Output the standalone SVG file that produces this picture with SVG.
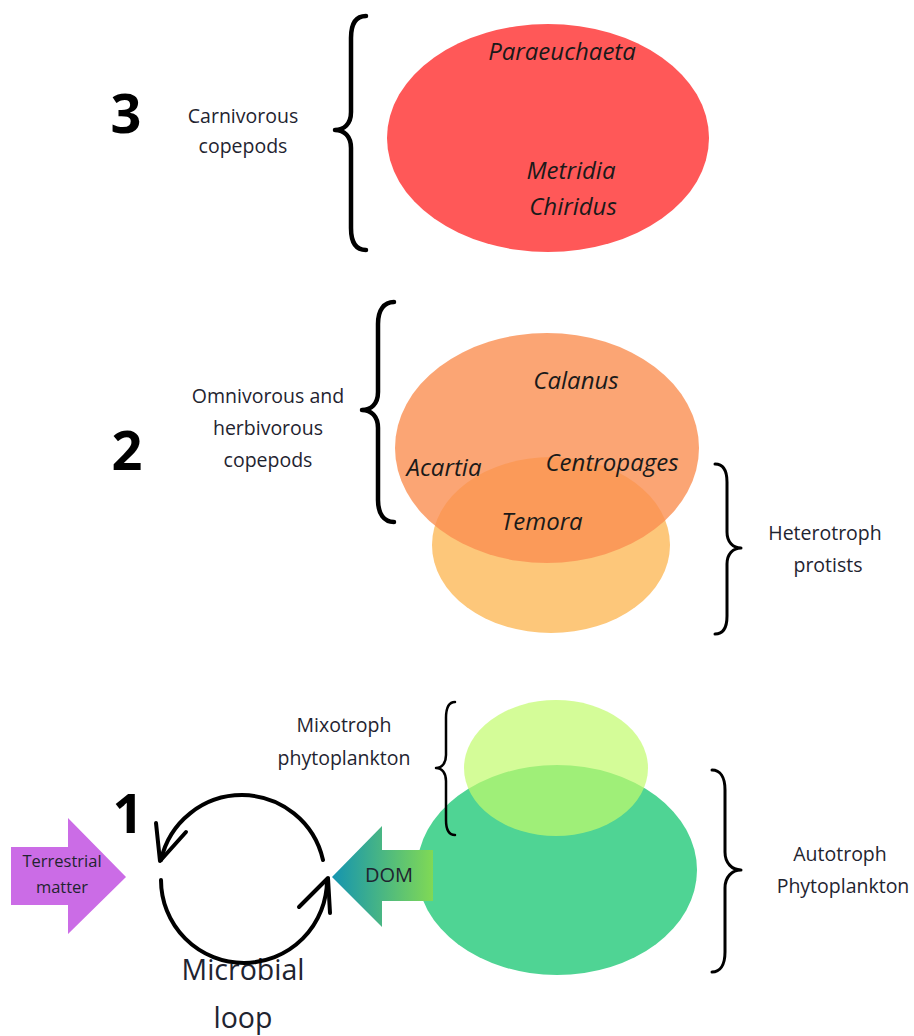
<svg xmlns="http://www.w3.org/2000/svg" width="914" height="1036" viewBox="0 0 914 1036">
<defs>
<style>
.lbl{font-family:"Open Sans","DejaVu Sans",sans-serif;font-size:19.5px;fill:#1f2430;text-anchor:middle}
.sp{font-family:"Open Sans","DejaVu Sans",sans-serif;font-size:24px;font-style:italic;fill:#1a1a1a;text-anchor:middle}
.num{font-family:"Open Sans","DejaVu Sans",sans-serif;font-size:54px;font-weight:bold;fill:#000;text-anchor:middle}
.brace{fill:none;stroke:#000;stroke-linecap:round;stroke-linejoin:round}
.loop{fill:none;stroke:#000;stroke-width:4;stroke-linecap:round;stroke-linejoin:round}
</style>
<linearGradient id="domGrad" x1="332" y1="0" x2="433" y2="0" gradientUnits="userSpaceOnUse">
<stop offset="0" stop-color="#1494B0"/>
<stop offset="1" stop-color="#80D955"/>
</linearGradient>
</defs>
<rect width="914" height="1036" fill="#fff"/>

<g id="level3">
<text class="num" x="126" y="133">3</text>
<text class="lbl" x="243" y="123">Carnivorous</text>
<text class="lbl" x="243" y="153">copepods</text>
<path class="brace" stroke-width="4.5" d="M366,16 C356,16 351,24 351,38 L351,112 C351,124 344,130 335,130 C344,130 351,136 351,148 L351,228 C351,242 356,250 366,250"/>
</g>
<g id="carnivores">
<ellipse cx="548" cy="138" rx="161" ry="114" fill="#FF5858"/>
<text class="sp" x="562" y="60">Paraeuchaeta</text>
<text class="sp" x="571" y="179">Metridia</text>
<text class="sp" x="573" y="215">Chiridus</text>
</g>

<g id="level2">
<text class="num" x="127" y="470">2</text>
<text class="lbl" x="268" y="403">Omnivorous and</text>
<text class="lbl" x="268" y="435">herbivorous</text>
<text class="lbl" x="268" y="467">copepods</text>
<path class="brace" stroke-width="4.5" d="M394,302 C384,302 378,310 378,324 L378,392 C378,404 371,410 362,410 C371,410 378,416 378,428 L378,500 C378,514 384,522 394,522"/>
</g>
<g id="heterotroph-protists">
<ellipse cx="551" cy="545" rx="119" ry="88" fill="#FDC77A"/>
<path class="brace" stroke-width="3" d="M715,464 C723,464 727,470 727,482 L727,532 C727,542 733,548 741,548 C733,548 727,554 727,564 L727,616 C727,628 723,634 715,634"/>
<text class="lbl" x="825" y="540">Heterotroph</text>
<text class="lbl" x="828" y="572">protists</text>
</g>
<g id="copepods">
<ellipse cx="547" cy="448" rx="152" ry="115" fill="#FA8E51" fill-opacity="0.8"/>
<text class="sp" x="576" y="389">Calanus</text>
<text class="sp" x="444" y="476">Acartia</text>
<text class="sp" x="612" y="471">Centropages</text>
<text class="sp" x="542" y="530">Temora</text>
</g>

<g id="autotroph">
<ellipse cx="557" cy="870" rx="140" ry="105" fill="#4FD494"/>
<path class="brace" stroke-width="3" d="M712,770 C720,770 725,777 725,790 L725,852 C725,863 732,870 741,870 C732,870 725,877 725,888 L725,952 C725,965 720,972 712,972"/>
<text class="lbl" x="840" y="861">Autotroph</text>
<text class="lbl" x="843" y="893">Phytoplankton</text>
</g>
<g id="mixotroph">
<ellipse cx="556" cy="768" rx="92" ry="68" fill="#C2FB6C" fill-opacity="0.7"/>
<path class="brace" stroke-width="2.5" d="M455,702 C449,702 446,708 446,718 L446,755 C446,763 442,768 436,768 C442,768 446,773 446,781 L446,820 C446,830 449,835 455,835"/>
<text class="lbl" x="344" y="732">Mixotroph</text>
<text class="lbl" x="344" y="765">phytoplankton</text>
</g>

<g id="level1">
<text class="num" x="128" y="833">1</text>
</g>
<g id="terrestrial">
<polygon points="11,847 68,847 68,818 126,877 68,934 68,905 11,905" fill="#CB6CE6"/>
<text class="lbl" x="62" y="867" style="font-size:16.5px">Terrestrial</text>
<text class="lbl" x="62" y="893" style="font-size:16.5px">matter</text>
</g>
<g id="dom">
<polygon points="433,850 382,850 382,826 332,877 382,927 382,901 433,901" fill="url(#domGrad)"/>
<text class="lbl" x="389" y="882" style="font-size:20px">DOM</text>
</g>
<g id="microbial-loop">
<text class="lbl" x="243" y="980" style="font-size:28.5px">Microbial</text>
<text class="lbl" x="243" y="1028" style="font-size:28.5px">loop</text>
</g>

<g id="connectors">
<path class="loop" d="M323,860 A83,83 0 0 0 161,860"/>
<polyline class="loop" points="156,823 160,861 186,832"/>
<path class="loop" d="M161,880 A83,83 0 0 0 327,880"/>
<polyline class="loop" points="299,907 328,878 330,913"/>
</g>
</svg>
